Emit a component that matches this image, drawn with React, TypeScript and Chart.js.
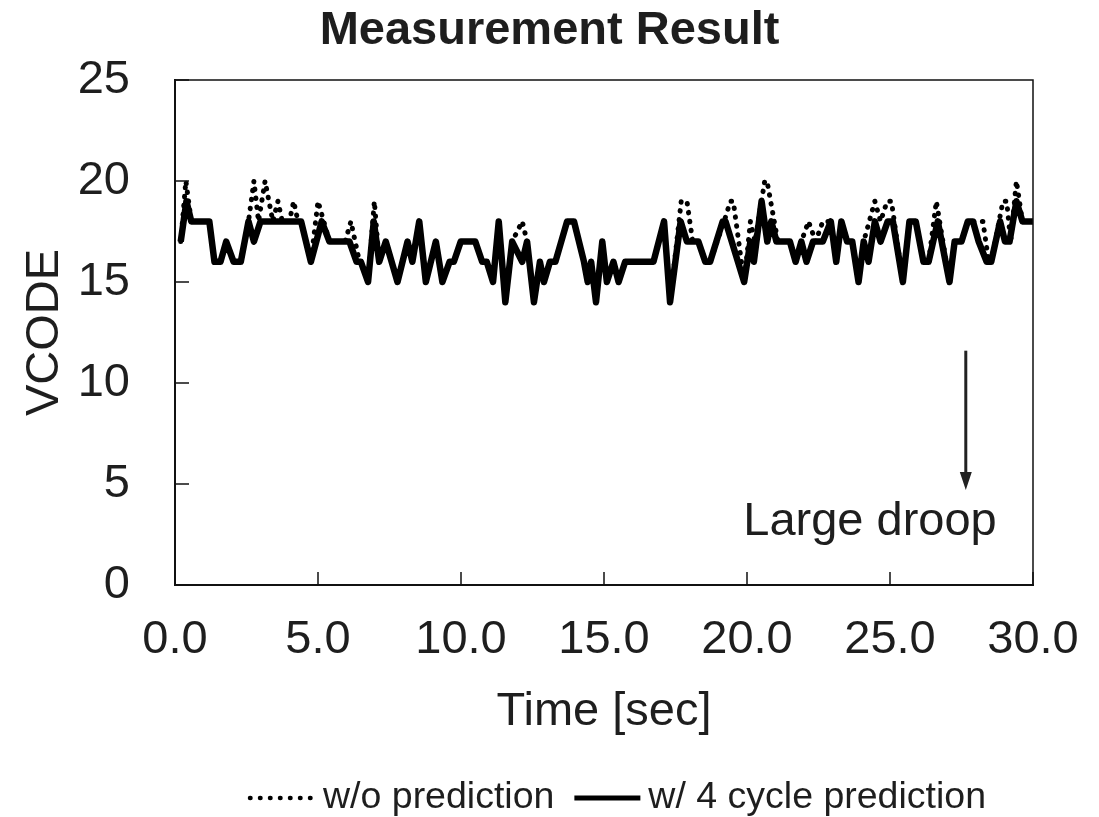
import React, { useEffect, useRef } from "react";
import { Chart, registerables } from "chart.js";

Chart.register(...registerables);

// ---------- data ----------
const TITLE = "Measurement Result";
const X_TITLE = "Time [sec]";
const Y_TITLE = "VCODE";
const SERIES_NAMES = ["w/o prediction", "w/ 4 cycle prediction"];

const X_TICKS = [0, 5, 10, 15, 20, 25, 30];
const Y_TICKS = [0, 5, 10, 15, 20, 25];

// w/ 4 cycle prediction (solid)
const SOLID_T = [
  0.2, 0.4, 0.57, 1.2, 1.38, 1.59, 1.79, 2.05, 2.3, 2.57,
  2.76, 2.99, 4.41, 4.75, 5.13, 5.4, 6.1, 6.35, 6.5, 6.75,
  6.95, 7.14, 7.37, 7.78, 8.13, 8.3, 8.54, 8.77, 9.12, 9.35,
  9.6, 9.75, 9.99, 10.5, 10.74, 10.9, 11.12, 11.32, 11.55, 11.79,
  12.14, 12.31, 12.55, 12.76, 12.9, 13.11, 13.3, 13.71, 13.95, 14.3,
  14.43, 14.55, 14.72, 14.94, 15.1, 15.33, 15.51, 15.74, 16.73, 17.1,
  17.31, 17.68, 17.9, 18.3, 18.54, 18.71, 19.15, 19.25, 19.9, 20.12,
  20.24, 20.51, 20.71, 20.85, 21.03, 21.5, 21.7, 21.9, 22.08, 22.31,
  22.65, 22.93, 23.12, 23.3, 23.5, 23.68, 23.9, 24.08, 24.25, 24.47,
  24.67, 24.92, 25.1, 25.45, 25.68, 25.9, 26.17, 26.35, 26.67, 27.08,
  27.26, 27.5, 27.72, 27.9, 28.1, 28.38, 28.54, 28.85, 29.02, 29.18,
  29.42, 29.63, 30.0,
];
const SOLID_V = [
  17, 19, 18, 18, 16, 16, 17, 16, 16, 18,
  17, 18, 18, 16, 18, 17, 17, 16, 16, 15,
  18, 16, 17, 15, 17, 16, 18, 15, 17, 15,
  16, 16, 17, 17, 16, 16, 15, 18, 14, 17,
  16, 17, 14, 16, 15, 16, 16, 18, 18, 16,
  15, 16, 14, 17, 15, 16, 15, 16, 16, 18,
  14, 18, 17, 17, 16, 16, 18, 18, 15, 17,
  16, 19, 17, 18, 17, 17, 16, 17, 16, 17,
  17, 18, 16, 18, 17, 17, 15, 17, 16, 18,
  17, 18, 18, 15, 18, 18, 16, 16, 18, 15,
  17, 17, 18, 18, 17, 16, 16, 18, 17, 17,
  19, 18, 18,
];

// w/o prediction (dotted)
const DOT_T = [
  0.2, 0.38, 0.57, 1.2, 1.38, 1.59, 1.79, 2.05, 2.3, 2.57,
  2.76, 2.92, 3.15, 3.42, 3.6, 3.75, 4.0, 4.15, 4.3, 4.41,
  4.75, 5.0, 5.2, 5.4, 5.95, 6.15, 6.45, 6.5, 6.75, 6.97,
  7.14, 7.37, 7.78, 8.13, 8.3, 8.54, 8.77, 9.12, 9.35, 9.6,
  9.75, 9.99, 10.5, 10.74, 10.9, 11.12, 11.32, 11.55, 11.79, 12.14,
  12.31, 12.55, 12.76, 12.9, 13.11, 13.3, 13.71, 13.95, 14.3, 14.43,
  14.55, 14.72, 14.94, 15.1, 15.33, 15.51, 15.74, 16.73, 17.1, 17.31,
  17.7, 17.9, 18.1, 18.3, 18.54, 18.71, 19.2, 19.42, 19.52, 19.9,
  20.12, 20.28, 20.62, 20.7, 21.08, 21.5, 21.7, 21.9, 22.15, 22.4,
  22.65, 22.93, 23.12, 23.3, 23.5, 23.68, 23.9, 24.08, 24.47, 24.67,
  24.9, 25.05, 25.45, 25.68, 25.9, 26.17, 26.35, 26.62, 27.08, 27.26,
  27.5, 27.72, 27.9, 28.25, 28.45, 28.54, 28.95, 29.08, 29.22, 29.42,
  29.63, 30.0,
];
const DOT_V = [
  17, 20, 18, 18, 16, 16, 17, 16, 16, 18,
  20, 18, 20, 18, 19, 18, 18, 19, 18, 18,
  16, 19, 18, 17, 17, 18, 16, 16, 15, 19,
  16, 17, 15, 17, 16, 18, 15, 17, 15, 16,
  16, 17, 17, 16, 16, 15, 18, 14, 17, 18,
  17, 14, 16, 15, 16, 16, 18, 18, 16, 15,
  16, 14, 17, 15, 16, 15, 16, 16, 18, 14,
  19, 19, 17, 17, 16, 16, 18, 19, 19, 15,
  18, 17, 20, 20, 17, 17, 16, 17, 18, 17,
  18, 18, 16, 18, 17, 17, 15, 17, 19, 18,
  19, 19, 15, 18, 18, 16, 16, 19, 15, 17,
  17, 18, 18, 18, 16, 16, 19, 19, 17, 20,
  18, 18,
];

// annotation (in data units)
const NOTE_TEXT = "Large droop";
const NOTE_X = 24.3;
const NOTE_Y = 3.1;
const ARROW_X = 27.65;
const ARROW_FROM = 11.6;
const ARROW_TO = 4.7;

// ---------- styling ----------
const FONT = "'Liberation Sans', Arial, Helvetica, sans-serif";
const TEXT = "#1e1e1e";
const W = 1099;
const H = 817;
const FS = 47;

const overlay = {
  id: "overlay",
  afterDraw(chart: any) {
    const { ctx, chartArea: a, scales } = chart;
    const xs = scales.x;
    const ys = scales.y;
    ctx.save();

    // frame (top & right)
    ctx.strokeStyle = "#111";
    ctx.lineWidth = 1.5;
    ctx.beginPath();
    ctx.moveTo(a.left, a.top);
    ctx.lineTo(a.right, a.top);
    ctx.lineTo(a.right, a.bottom);
    ctx.stroke();

    // inner tick marks
    ctx.beginPath();
    X_TICKS.forEach((v) => {
      const px = xs.getPixelForValue(v);
      ctx.moveTo(px, a.bottom);
      ctx.lineTo(px, a.bottom - 13);
    });
    Y_TICKS.forEach((v) => {
      const py = ys.getPixelForValue(v);
      ctx.moveTo(a.left, py);
      ctx.lineTo(a.left + 14, py);
    });
    ctx.stroke();

    // arrow
    const ax = xs.getPixelForValue(ARROW_X);
    const ay1 = ys.getPixelForValue(ARROW_FROM);
    const ay2 = ys.getPixelForValue(ARROW_TO);
    ctx.strokeStyle = "#222";
    ctx.fillStyle = "#222";
    ctx.lineWidth = 3;
    ctx.beginPath();
    ctx.moveTo(ax, ay1);
    ctx.lineTo(ax, ay2 - 16);
    ctx.stroke();
    ctx.beginPath();
    ctx.moveTo(ax - 6, ay2 - 18);
    ctx.lineTo(ax + 6, ay2 - 18);
    ctx.lineTo(ax, ay2);
    ctx.closePath();
    ctx.fill();

    // annotation text
    ctx.fillStyle = TEXT;
    ctx.font = `${FS}px ${FONT}`;
    ctx.textAlign = "center";
    ctx.textBaseline = "middle";
    ctx.fillText(NOTE_TEXT, xs.getPixelForValue(NOTE_X), ys.getPixelForValue(NOTE_Y));

    // title
    ctx.font = `bold ${FS}px ${FONT}`;
    ctx.fillText(TITLE, W / 2, 31);

    // legend
    const ly = 798;
    ctx.font = `37.5px ${FONT}`;
    ctx.textAlign = "left";
    let x = 250;
    ctx.strokeStyle = "#000";
    ctx.lineWidth = 4.5;
    ctx.lineCap = "round";
    ctx.setLineDash([0.5, 9.5]);
    ctx.beginPath();
    ctx.moveTo(x, ly);
    ctx.lineTo(x + 62, ly);
    ctx.stroke();
    ctx.setLineDash([]);
    ctx.lineCap = "butt";
    x += 73;
    ctx.fillText(SERIES_NAMES[0], x, ly);
    x += ctx.measureText(SERIES_NAMES[0]).width + 20;
    ctx.lineWidth = 5;
    ctx.beginPath();
    ctx.moveTo(x, ly);
    ctx.lineTo(x + 66, ly);
    ctx.stroke();
    x += 74;
    ctx.fillText(SERIES_NAMES[1], x, ly);

    ctx.restore();
  },
};

export default function App() {
  const ref = useRef<HTMLCanvasElement>(null);

  useEffect(() => {
    document.body.style.margin = "0";
    const canvas = ref.current!;
    const tickFont = { family: FONT, size: FS };
    const chart = new Chart(canvas, {
      type: "line",
      data: {
        datasets: [
          {
            label: SERIES_NAMES[1],
            data: SOLID_T.map((t, i) => ({ x: t, y: SOLID_V[i] })),
            borderColor: "#000",
            borderWidth: 6.5,
            borderJoinStyle: "round",
            pointRadius: 0,
            fill: false,
            order: 1,
          },
          {
            label: SERIES_NAMES[0],
            data: DOT_T.map((t, i) => ({ x: t, y: DOT_V[i] })),
            borderColor: "#000",
            borderWidth: 5,
            borderDash: [0.5, 8.5],
            borderCapStyle: "round",
            borderJoinStyle: "round",
            pointRadius: 0,
            fill: false,
            order: 2,
          },
        ],
      },
      options: {
        animation: false,
        responsive: false,
        devicePixelRatio: 1,
        layout: { padding: { top: 80, right: 66, bottom: 72, left: 0 } },
        plugins: {
          legend: { display: false },
          title: { display: false },
          tooltip: { enabled: false },
        },
        elements: { line: { tension: 0 }, point: { radius: 0 } },
        scales: {
          x: {
            type: "linear",
            min: 0,
            max: 30,
            afterFit: (s: any) => {
              s.height = 160;
              s.paddingLeft = 0;
              s.paddingRight = 0;
            },
            afterBuildTicks: (s: any) => {
              s.ticks = X_TICKS.map((v) => ({ value: v }));
            },
            ticks: {
              callback: (v: any) => Number(v).toFixed(1),
              font: tickFont,
              color: TEXT,
              padding: 27,
              maxRotation: 0,
              autoSkip: false,
            },
            grid: { display: false, drawTicks: false },
            border: { display: true, color: "#111", width: 2 },
            title: {
              display: true,
              text: X_TITLE,
              color: TEXT,
              font: { family: FONT, size: FS, lineHeight: 1 },
              padding: { top: 0, bottom: 9 },
            },
          },
          y: {
            type: "linear",
            min: 0,
            max: 25,
            afterFit: (s: any) => {
              s.width = 175;
              s.paddingTop = 0;
              s.paddingBottom = 0;
            },
            afterBuildTicks: (s: any) => {
              s.ticks = Y_TICKS.map((v) => ({ value: v }));
            },
            ticks: {
              font: tickFont,
              color: TEXT,
              padding: 45,
            },
            grid: { display: false, drawTicks: false },
            border: { display: true, color: "#111", width: 2 },
            title: {
              display: true,
              text: Y_TITLE,
              color: TEXT,
              font: { family: FONT, size: FS, lineHeight: 1 },
              padding: { top: 22, bottom: 0 },
            },
          },
        },
      } as any,
      plugins: [overlay],
    });
    return () => chart.destroy();
  }, []);

  return (
    <div style={{ position: "absolute", left: 0, top: 0, width: W, height: H }}>
      <canvas ref={ref} width={W} height={H} style={{ display: "block", width: W, height: H }} />
    </div>
  );
}
